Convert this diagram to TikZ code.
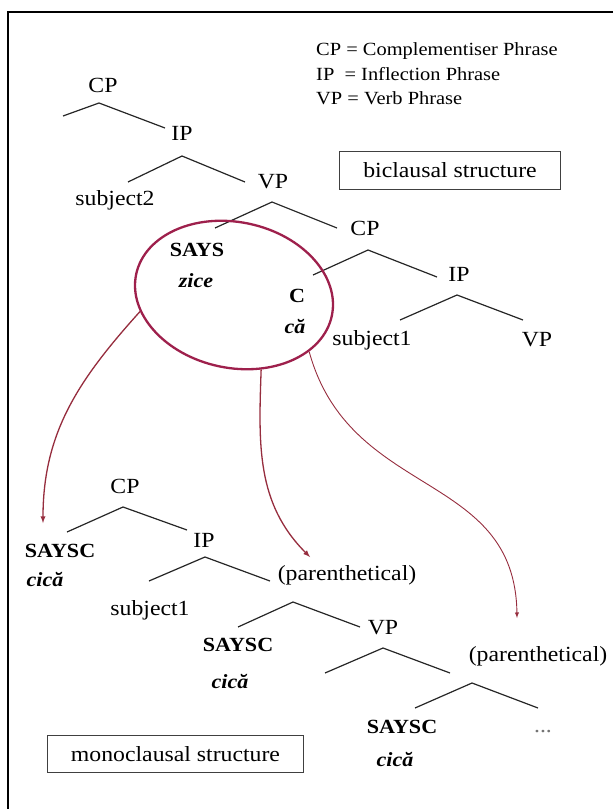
\documentclass[tikz,border=0pt]{standalone}
\usepackage{fontspec}
\setmainfont{Liberation Serif}[FakeStretch=1.1]
\usepackage{tikz}
\usetikzlibrary{shapes.geometric, arrows}
\tikzset{>=latex}
\definecolor{mymaroon}{RGB}{158, 32, 76}
\definecolor{myarrow}{RGB}{150, 45, 62}

\begin{document}
\begin{tikzpicture}[x=0.35mm, y=0.35mm,
  lbl/.style={inner sep=0pt, font=\fontsize{21.5}{25}\selectfont},
  word/.style={inner sep=0pt, font=\fontsize{20}{24}\selectfont\bfseries},
  gloss/.style={inner sep=0pt, font=\fontsize{20}{24}\selectfont\bfseries\itshape},
  branch/.style={draw=black!85, line width=1.2pt},
  tag/.style={draw=black!75, line width=1.1pt, inner xsep=8.2mm, inner ysep=0pt, minimum height=13mm, font=\fontsize{21.5}{25}\selectfont},
  hop/.style={->, draw=myarrow, line width=1.3pt}]
\useasboundingbox (0,0) rectangle (613,-809);
\draw[line width=1.1pt] (613,-12) -- (8,-12) -- (8,-809);

% legend
\node[anchor=west, align=left, inner sep=0pt, font=\fontsize{18.5}{24.5}\selectfont] (key) at (316,-74) {CP = Complementiser Phrase\\IP~ = Inflection Phrase\\VP = Verb Phrase};
\node[tag] (bi) at (450,-170.5) {biclausal structure};

% biclausal tree
\node[lbl] (cpa) at (103,-85) {CP};
\node[lbl] (ipa) at (182,-133) {IP};
\node[lbl] (subja) at (115,-200) {subject2};
\node[lbl] (vpa) at (273,-182) {VP};
\node[lbl] (cpb) at (365,-228) {CP};
\node[word] (says) at (197,-250) {SAYS};
\node[gloss] (zice) at (196,-281) {zice};
\node[lbl] (ipb) at (459,-274) {IP};
\node[word] (c) at (297,-296) {C};
\node[gloss] (ca) at (295,-327) {că};
\node[lbl] (subjb) at (372,-340) {subject1};
\node[lbl] (vpb) at (537,-340) {VP};
\draw[branch] (63,-116) -- (99,-103) -- (165,-128);
\draw[branch] (128,-182) -- (182,-156) -- (245,-182);
\draw[branch] (215,-228) -- (272,-202) -- (337,-228);
\draw[branch] (313,-275) -- (368,-250) -- (437,-277);
\draw[branch] (400,-320) -- (457,-295) -- (523,-320);

% the circled words
\node[ellipse, draw=mymaroon, line width=2.3pt, minimum width=70mm, minimum height=51mm, inner sep=0pt, rotate=-12] (zone) at (234,-295) {};

% monoclausal tree
\node[lbl] (cpc) at (125,-486) {CP};
\node[word] (saysca) at (60,-551) {SAYSC};
\node[gloss] (cicaa) at (45,-580) {cică};
\node[lbl] (ipc) at (204,-540) {IP};
\node[lbl] (subjc) at (150,-610) {subject1};
\node[lbl] (para) at (347,-575) {(parenthetical)};
\node[word] (sayscb) at (238,-645) {SAYSC};
\node[gloss] (cicab) at (230,-682) {cică};
\node[lbl] (vpc) at (383,-628) {VP};
\node[lbl] (parb) at (538,-656) {(parenthetical)};
\node[word] (sayscc) at (402,-727) {SAYSC};
\node[gloss] (cicac) at (395,-760) {cică};
\node[lbl, text=black!55] (dots) at (543,-732) {...};
\draw[branch] (67,-532) -- (123,-507) -- (187,-530);
\draw[branch] (149,-581) -- (205,-557) -- (270,-581);
\draw[branch] (238,-627) -- (293,-602) -- (360,-627);
\draw[branch] (325,-673) -- (383,-648) -- (450,-673);
\draw[branch] (415,-708) -- (472,-683) -- (538,-708);
\node[tag] (mono) at (175.5,-754) {monoclausal structure};

% arrows out of the ellipse
\coordinate (tipa) at (43,-523);
\coordinate (tipb) at (310,-557);
\coordinate (tipc) at (517,-618);
\draw[hop] (zone.202) to[out=228, in=90] (tipa);
\draw[hop] (zone.302) to[out=268, in=135] (tipb);
\draw[hop, line width=0.9pt] (zone.335) .. controls (350,-500) and (515,-470) .. (tipc);
\end{tikzpicture}
\end{document}
